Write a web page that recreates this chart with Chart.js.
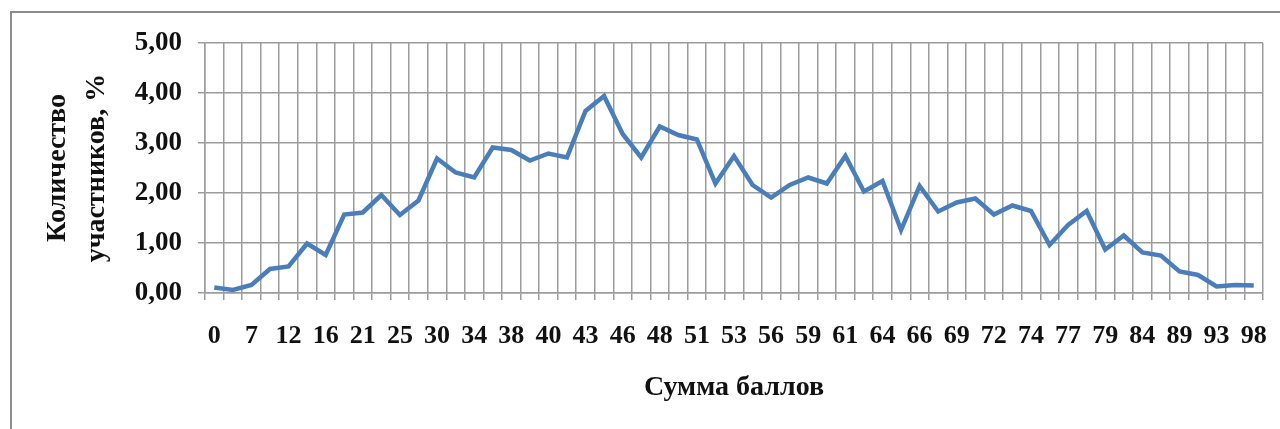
<!DOCTYPE html>
<html>
<head>
<meta charset="utf-8">
<script src="https://cdn.jsdelivr.net/npm/chart.js@4/dist/chart.umd.min.js"></script>
<style>
  html, body { margin: 0; padding: 0; background: #fff; overflow: hidden; }
  #wrap { position: relative; width: 1280px; height: 429px; }
  #frame {
    position: absolute; left: 10px; top: 11px; width: 1300px; height: 450px;
    border: 2px solid #8c8c8c; pointer-events: none;
  }
</style>
</head>
<body>
<div id="wrap">
  <canvas id="scoreChart" width="1280" height="429"></canvas>
  <div id="frame"></div>
</div>
<script>
// Score sums (only every other one is labelled on the axis)
const scores = [0, 4, 7, 10, 12, 14, 16, 19, 21, 23, 25, 28, 30, 32, 34, 36, 38, 39, 40, 42,
  43, 45, 46, 47, 48, 50, 51, 52, 53, 55, 56, 58, 59, 60, 61, 63, 64, 65, 66, 68,
  69, 71, 72, 73, 74, 76, 77, 78, 79, 82, 84, 87, 89, 91, 93, 96, 98];

// Share of participants, %
const participants = [0.11, 0.06, 0.16, 0.48, 0.53, 0.99, 0.76, 1.57, 1.61, 1.96,
  1.56, 1.85, 2.69, 2.41, 2.31, 2.91, 2.86, 2.65, 2.79, 2.71,
  3.64, 3.94, 3.18, 2.71, 3.33, 3.16, 3.07, 2.19, 2.74, 2.16,
  1.91, 2.16, 2.31, 2.19, 2.74, 2.03, 2.24, 1.26, 2.14, 1.63,
  1.81, 1.89, 1.57, 1.75, 1.64, 0.96, 1.36, 1.64, 0.87, 1.15,
  0.81, 0.75, 0.43, 0.36, 0.13, 0.16, 0.15];

const yTicks = [0, 1, 2, 3, 4, 5];

const fontFamily = '"Liberation Serif", "Times New Roman", serif';
const gridColor = '#9c9c9c';

const ctx = document.getElementById('scoreChart').getContext('2d');
const scoreChart = new Chart(ctx, {
  type: 'line',
  data: {
    labels: scores.map(String),
    datasets: [{
      label: 'Количество участников, %',
      data: participants,
      borderColor: '#4a7ebb',
      borderWidth: 4.5,
      pointRadius: 0,
      tension: 0,
      fill: false
    }]
  },
  options: {
    responsive: false,
    animation: false,
    layout: { padding: { left: 0, top: 43, right: 17, bottom: 0 } },
    plugins: {
      legend: { display: false },
      tooltip: { enabled: false }
    },
    scales: {
      x: {
        type: 'category',
        offset: true,
        afterFit: (scale) => {
          scale.height = 136;
          scale.paddingLeft = 0;
          scale.paddingRight = 0;
        },
        grid: {
          offset: true,
          color: gridColor,
          lineWidth: 1.5,
          tickLength: 7,
          drawTicks: true
        },
        border: { color: gridColor, width: 1.5 },
        ticks: {
          autoSkip: false,
          maxRotation: 0,
          minRotation: 0,
          padding: 21,
          color: '#111',
          font: { family: fontFamily, size: 26, weight: 'bold' },
          callback: (value, index) => index % 2 === 0 ? scores[index] : ''
        },
        title: {
          display: true,
          text: 'Сумма баллов',
          color: '#111',
          font: { family: fontFamily, size: 28, weight: 'bold' },
          padding: { top: 0, bottom: 24 }
        }
      },
      y: {
        min: 0,
        max: 5,
        afterFit: (scale) => { scale.width = 205; },
        afterBuildTicks: (scale) => { scale.ticks = yTicks.map(v => ({ value: v })); },
        grid: {
          color: gridColor,
          lineWidth: 1.5,
          tickLength: 7
        },
        border: { color: gridColor, width: 1.5 },
        ticks: {
          padding: 16,
          color: '#111',
          font: { family: fontFamily, size: 27, weight: 'bold' },
          callback: (value) => value.toFixed(2).replace('.', ',')
        },
        title: {
          display: true,
          text: ['Количество', 'участников, %'],
          color: '#111',
          font: { family: fontFamily, size: 28, weight: 'bold', lineHeight: 1.4 },
          padding: { top: 38, bottom: 0 }
        }
      }
    }
  }
});
</script>
</body>
</html>
